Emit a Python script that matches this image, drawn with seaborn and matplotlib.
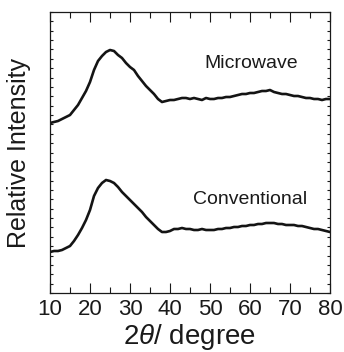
import numpy as np
import pandas as pd
import matplotlib
matplotlib.use("Agg")
import matplotlib.pyplot as plt
from matplotlib.ticker import MultipleLocator, FixedLocator, NullFormatter
import seaborn as sns

# 2-theta grid (degrees) and intensities (arbitrary units)
two_theta = list(range(10, 81))
microwave = [177, 178, 179, 181, 183, 185, 190, 195, 202, 209,
             218, 230, 239, 244, 248, 250, 249, 245, 242, 237,
             233, 230, 224, 219, 214, 210, 206, 201, 198, 199,
             200, 200, 201, 202, 202, 201, 202, 201, 200, 202,
             201, 201, 202, 202, 203, 203, 204, 205, 206, 206,
             207, 207, 208, 209, 209, 210, 208, 207, 206, 206,
             205, 204, 204, 203, 202, 202, 201, 201, 200, 201,
             201]
conventional = [48, 49, 49, 50, 52, 54, 59, 65, 72, 80,
                90, 104, 112, 117, 120, 119, 117, 113, 108, 104,
                100, 96, 92, 88, 83, 79, 75, 71, 68, 68,
                69, 71, 71, 72, 71, 71, 70, 70, 71, 70,
                70, 70, 71, 71, 72, 72, 73, 73, 74, 74,
                75, 75, 76, 76, 77, 77, 77, 76, 76, 75,
                75, 75, 74, 74, 73, 72, 71, 71, 70, 69,
                68]
labels = ["Microwave", "Conventional"]

df = pd.DataFrame({"two_theta": two_theta * 2,
                   "intensity": microwave + conventional,
                   "sample": [labels[0]] * len(microwave) + [labels[1]] * len(conventional)})

sns.set_theme(style="ticks")
plt.rcParams["font.family"] = ["Liberation Sans", "DejaVu Sans"]
plt.rcParams["mathtext.fontset"] = "custom"
plt.rcParams["mathtext.rm"] = "Liberation Sans"
plt.rcParams["mathtext.it"] = "Liberation Sans:italic"

fig = plt.figure(figsize=(3.44, 3.52), dpi=100)
ax = fig.add_axes([50 / 344, 59 / 352, 280 / 344, 281 / 352])

sns.lineplot(data=df, x="two_theta", y="intensity", units="sample", estimator=None,
             color="#141414", lw=1.9, ax=ax)

ax.set_xlim(10, 80)
ax.set_ylim(7, 288)
ax.xaxis.set_major_locator(MultipleLocator(10))
ax.xaxis.set_minor_locator(MultipleLocator(5))
ax.yaxis.set_major_locator(FixedLocator([]))
ax.yaxis.set_minor_locator(FixedLocator(np.linspace(7, 288, 31)))
ax.yaxis.set_minor_formatter(NullFormatter())

ax.tick_params(axis="both", which="both", direction="in", top=True, right=True,
               colors="#1a1a1a", width=0.8)
ax.tick_params(axis="x", which="major", length=7.5, labelsize=16, pad=4)
ax.tick_params(axis="x", which="minor", length=4)
ax.tick_params(axis="y", which="minor", length=2)
for s in ax.spines.values():
    s.set_linewidth(0.9)
    s.set_color("#1a1a1a")

ax.text(60.25, 236.5, labels[0], fontsize=14, ha="center", va="center", color="#1a1a1a")
ax.text(59.9, 100.5, labels[1], fontsize=14, ha="center", va="center", color="#1a1a1a")

ax.set_xlabel(r"2$\theta$/ degree", fontsize=20, labelpad=2, color="#1a1a1a")
ax.set_ylabel("Relative Intensity", fontsize=18, labelpad=10, color="#1a1a1a")

fig.savefig("out.png", dpi=100)
